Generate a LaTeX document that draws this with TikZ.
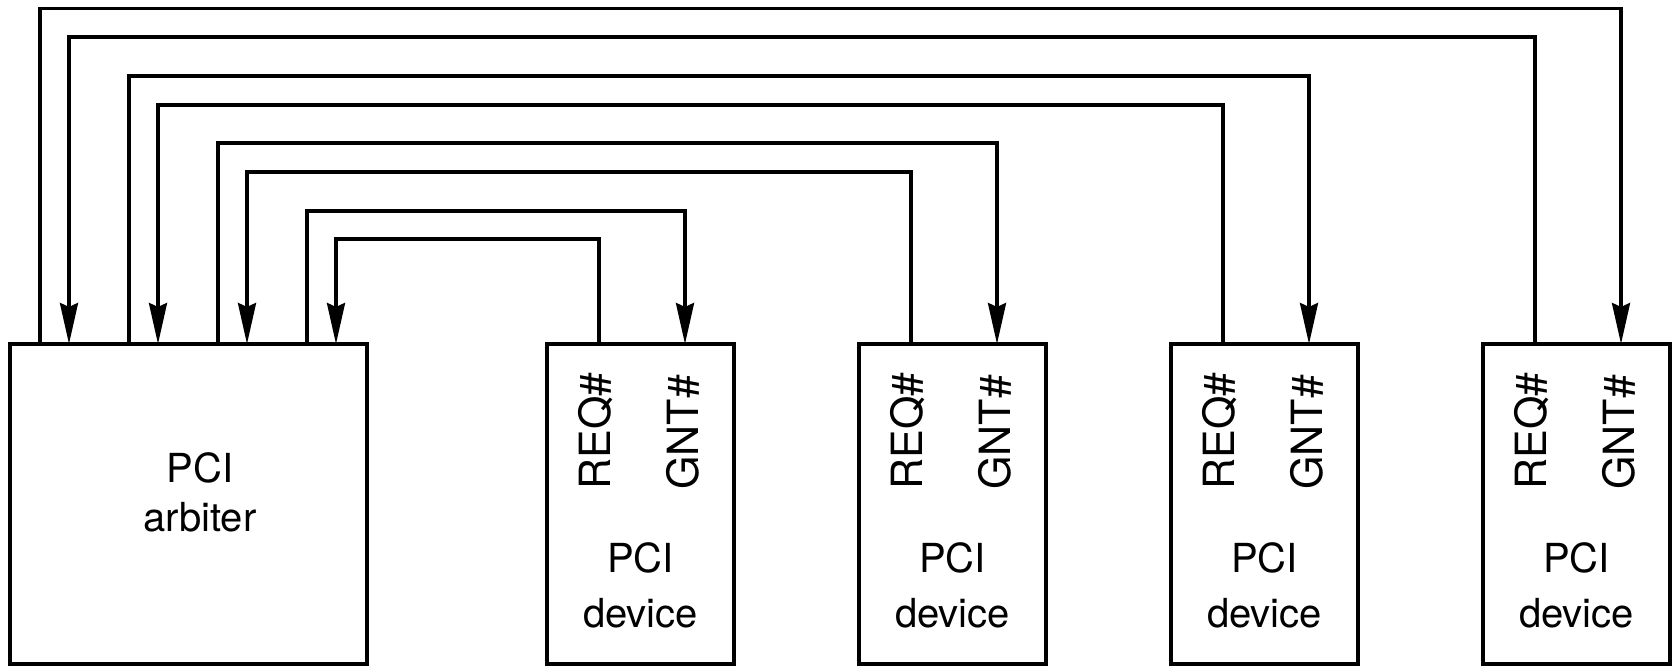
\documentclass[tikz,border=0pt]{standalone}
\usepackage{fontspec}
\setmainfont{TeX Gyre Heros}
\usetikzlibrary{arrows.meta,positioning,calc}
\tikzset{
  unitbox/.style={draw, line width=1.7pt, minimum height=160pt, inner sep=0pt, outer sep=0pt},
  arbbox/.style={unitbox, minimum width=178.5pt},
  devbox/.style={unitbox, minimum width=93.5pt},
  boxtext/.style={align=center, inner sep=0pt, font=\fontsize{20}{27.5}\selectfont},
  pintext/.style={rotate=90, anchor=base west, inner sep=0pt, font=\fontsize{21.5}{24}\selectfont},
  wire/.style={line width=1.7pt, -{Stealth[length=20.5pt,width=9pt,inset=2pt]}}
}

\begin{document}
\begin{tikzpicture}[x=0.5pt, y=0.5pt, node distance=62.5pt]
  \useasboundingbox (0,0) rectangle (1675,667);

  \node[arbbox] (arb) at (188.5,163) {};
  \node[boxtext, font=\fontsize{20}{24.5}\selectfont] (arbtxt) at ([shift={(5.75pt,5.75pt)}]arb.center) {PCI\\arbiter};

  \node[devbox, right=90pt of arb] (dev1) {};
  \node[devbox, right=of dev1] (dev2) {};
  \node[devbox, right=of dev2] (dev3) {};
  \node[devbox, right=of dev3] (dev4) {};

  \node[boxtext] (dev1txt) at ([yshift=-40.75pt]dev1.center) {PCI\\device};
  \node[boxtext] (dev2txt) at ([yshift=-40.75pt]dev2.center) {PCI\\device};
  \node[boxtext] (dev3txt) at ([yshift=-40.75pt]dev3.center) {PCI\\device};
  \node[boxtext] (dev4txt) at ([yshift=-40.75pt]dev4.center) {PCI\\device};

  \node[pintext] (dev1req) at ([shift={(31.5pt,-73pt)}]dev1.north west) {REQ\#};
  \node[pintext] (dev1gnt) at ([shift={(75.5pt,-73pt)}]dev1.north west) {GNT\#};
  \node[pintext] (dev2req) at ([shift={(31.5pt,-73pt)}]dev2.north west) {REQ\#};
  \node[pintext] (dev2gnt) at ([shift={(75.5pt,-73pt)}]dev2.north west) {GNT\#};
  \node[pintext] (dev3req) at ([shift={(31.5pt,-73pt)}]dev3.north west) {REQ\#};
  \node[pintext] (dev3gnt) at ([shift={(75.5pt,-73pt)}]dev3.north west) {GNT\#};
  \node[pintext] (dev4req) at ([shift={(31.5pt,-73pt)}]dev4.north west) {REQ\#};
  \node[pintext] (dev4gnt) at ([shift={(75.5pt,-73pt)}]dev4.north west) {GNT\#};

  % grant lines, arbiter -> device
  \draw[wire] ($(arb.north west)+(297,0)$) -- ++(0,133) -| ($(dev1.north west)+(138,0)$);
  \draw[wire] ($(arb.north west)+(208,0)$) -- ++(0,201) -| ($(dev2.north west)+(138,0)$);
  \draw[wire] ($(arb.north west)+(119,0)$) -- ++(0,268) -| ($(dev3.north west)+(138,0)$);
  \draw[wire] ($(arb.north west)+(30,0)$) -- ++(0,335.5) -| ($(dev4.north west)+(138,0)$);
  % request lines, device -> arbiter
  \draw[wire] ($(dev1.north west)+(52,0)$) -- ++(0,105) -| ($(arb.north west)+(326,0)$);
  \draw[wire] ($(dev2.north west)+(52,0)$) -- ++(0,172) -| ($(arb.north west)+(237,0)$);
  \draw[wire] ($(dev3.north west)+(52,0)$) -- ++(0,239) -| ($(arb.north west)+(148,0)$);
  \draw[wire] ($(dev4.north west)+(52,0)$) -- ++(0,307) -| ($(arb.north west)+(59,0)$);
\end{tikzpicture}
\end{document}
